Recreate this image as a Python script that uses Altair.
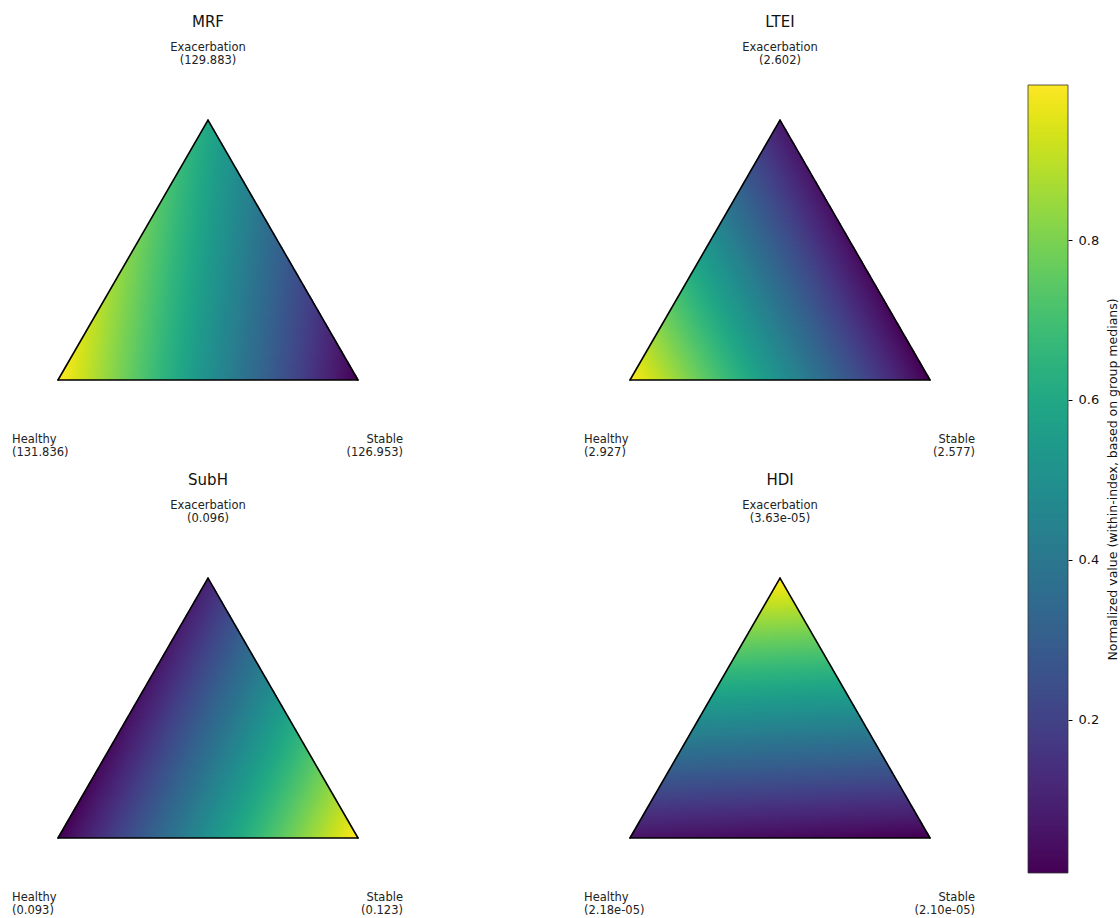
import math
import altair as alt
import pandas as pd

# ---------------- data ----------------
indices = ["MRF", "LTEI", "SubH", "HDI"]
healthy = [131.836, 2.927, 0.093, 2.18e-05]
exacerbation = [129.883, 2.602, 0.096, 3.63e-05]
stable = [126.953, 2.577, 0.123, 2.10e-05]
corners = ["Healthy", "Stable", "Exacerbation"]
colorbar_ticks = [0.2, 0.4, 0.6, 0.8]
colorbar_range = [0.008, 0.994]
cbar_title = "Normalized value (within-index, based on group medians)"

# panel placement in the 2 x 2 grid (layout, not data)
panel_col = [0, 1, 0, 1]
panel_row = [0, 0, 1, 1]


def fmt(v):
    return f"{v:.2e}" if abs(v) < 1e-3 else f"{v:.3f}"


wide = pd.DataFrame({
    "idx": indices, "H": healthy, "E": exacerbation, "S": stable,
    "pc": panel_col, "pr": panel_row,
})
long_rows = []
for i, name in enumerate(indices):
    for c, vals in zip(corners, [healthy, stable, exacerbation]):
        long_rows.append({"idx": name, "corner": c, "value": vals[i], "label": fmt(vals[i]),
                          "pc": panel_col[i], "pr": panel_row[i]})
long = pd.DataFrame(long_rows)

# ---------------- geometry / layout (pixel-like canvas units) ----------------
W, H = 1068, 918
HT = math.sqrt(3) / 2
R = 130           # rows of fill cells per triangle
C = 150           # columns of fill cells per triangle
SIDE = 300        # triangle side
X0, Y0 = 58, 380  # left base corner of the first panel
DX, DY = 572, 458 # panel pitch
FONT = "DejaVu Sans"
LBL = 11.5

xs = alt.Scale(domain=[0, W], nice=False, zero=False)
ys = alt.Scale(domain=[0, H], nice=False, zero=False, reverse=True)
cscale = alt.Scale(scheme="viridis", domain=colorbar_range, clamp=True)

OX = f"({X0} + {DX} * datum.pc)"
OY = f"({Y0} + {DY} * datum.pr)"

grid = (
    alt.Chart(wide)
    .transform_calculate(
        mn="min(datum.H, datum.E, datum.S)",
        mx="max(datum.H, datum.E, datum.S)",
    )
    .transform_calculate(
        nH="(datum.H - datum.mn) / (datum.mx - datum.mn)",
        nE="(datum.E - datum.mn) / (datum.mx - datum.mn)",
        nS="(datum.S - datum.mn) / (datum.mx - datum.mn)",
        r=f"sequence(0, {R})",
    )
    .transform_flatten(["r"])
    .transform_calculate(
        yc=f"(datum.r + 0.5) / {R} * {HT}",
        yb0=f"datum.r / {R} * {HT}",
        yb1=f"min((datum.r + 1) / {R} * {HT} + 0.002, {HT})",
    )
    .transform_calculate(le=f"0.5 * datum.yc / {HT}")
    .transform_calculate(
        re="1 - datum.le",
        k=f"sequence(floor(datum.le * {C}), ceil((1 - datum.le) * {C}))",
    )
    .transform_flatten(["k"])
    .transform_calculate(
        xb0=f"max(datum.k / {C}, datum.le)",
        xb1=f"min((datum.k + 1) / {C} + 0.002, datum.re)",
        xc=f"(max(datum.k / {C}, datum.le) + min((datum.k + 1) / {C}, datum.re)) / 2",
    )
    .transform_calculate(wE=f"datum.yc / {HT}")
    .transform_calculate(wS="datum.xc - 0.5 * datum.wE")
    .transform_calculate(wH="1 - datum.wE - datum.wS")
    .transform_calculate(
        v="datum.wH * datum.nH + datum.wE * datum.nE + datum.wS * datum.nS",
        px0=f"{OX} + {SIDE} * datum.xb0",
        px1=f"{OX} + {SIDE} * datum.xb1",
        py0=f"{OY} - {SIDE} * datum.yb0",
        py1=f"{OY} - {SIDE} * datum.yb1",
    )
    .mark_rect(strokeWidth=0)
    .encode(
        x=alt.X("px0:Q", scale=xs, axis=None),
        x2="px1:Q",
        y=alt.Y("py0:Q", scale=ys, axis=None),
        y2="py1:Q",
        color=alt.Color("v:Q", scale=cscale, legend=None),
    )
)

BX = "(datum.c == 'Healthy' ? 0 : (datum.c == 'Stable' ? 1 : 0.5))"
BY = f"(datum.c == 'Exacerbation' ? {HT} : 0)"

outline = (
    alt.Chart(long)
    .transform_calculate(
        nxt="datum.corner == 'Healthy' ? 'Stable' : (datum.corner == 'Stable' ? 'Exacerbation' : 'Healthy')"
    )
    .transform_calculate(
        ax=f"{OX} + {SIDE} * " + BX.replace("datum.c ", "datum.corner "),
        ay=f"{OY} - {SIDE} * " + BY.replace("datum.c ", "datum.corner "),
        bx=f"{OX} + {SIDE} * " + BX.replace("datum.c ", "datum.nxt "),
        by=f"{OY} - {SIDE} * " + BY.replace("datum.c ", "datum.nxt "),
    )
    .mark_rule(color="black", strokeWidth=1.6, strokeCap="round")
    .encode(
        x=alt.X("ax:Q", scale=xs, axis=None),
        y=alt.Y("ay:Q", scale=ys, axis=None),
        x2="bx:Q",
        y2="by:Q",
    )
)


def corner_text(corner, dx, dy, align):
    return (
        alt.Chart(long)
        .transform_filter(alt.datum.corner == corner)
        .transform_calculate(
            tx=f"{dx} + {DX} * datum.pc",
            ty=f"{dy} + {DY} * datum.pr",
            txt="datum.corner + '\\n(' + datum.label + ')'",
        )
        .mark_text(
            align=align, baseline="middle", lineBreak="\n", fontSize=LBL,
            lineHeight=13, font=FONT, color="#222222",
        )
        .encode(
            x=alt.X("tx:Q", scale=xs, axis=None),
            y=alt.Y("ty:Q", scale=ys, axis=None),
            text="txt:N",
        )
    )


t_exac = corner_text("Exacerbation", 208, 47.5, "center")
t_h = corner_text("Healthy", 12, 440, "left")
t_s = corner_text("Stable", 403, 440, "right")

titles = (
    alt.Chart(wide)
    .transform_calculate(tx=f"208 + {DX} * datum.pc", ty=f"22 + {DY} * datum.pr")
    .mark_text(align="center", baseline="middle", fontSize=15, font=FONT, color="#111111")
    .encode(
        x=alt.X("tx:Q", scale=xs, axis=None),
        y=alt.Y("ty:Q", scale=ys, axis=None),
        text="idx:N",
    )
)

# ---------------- colorbar ----------------
cmin, cmax = colorbar_range
CB_TOP, CB_BOT = 85, 873
scale_px = (CB_BOT - CB_TOP) / (cmax - cmin)
cb_dom = [cmin - (H - CB_BOT) / scale_px, cmax + CB_TOP / scale_px]
cbs = alt.Scale(domain=cb_dom, nice=False, zero=False)
step = (cmax - cmin) / 300

cb_fill = (
    alt.Chart(alt.sequence(cmin, cmax, step, as_="c"))
    .transform_calculate(c2=f"min(datum.c + {step * 1.6}, {cmax})")
    .mark_rect(strokeWidth=0)
    .encode(
        x=alt.value(W - 40),
        x2=alt.value(W),
        y=alt.Y(
            "c:Q",
            scale=cbs,
            axis=alt.Axis(
                orient="right", values=colorbar_ticks, format=".1f", domain=False, grid=False,
                tickColor="black", tickSize=4, tickWidth=1, labelFontSize=13,
                labelColor="#111111", labelFont=FONT, labelPadding=6,
                title=cbar_title, titleFont=FONT, titleFontSize=12.5,
                titleFontWeight="normal", titleColor="#111111", titleAngle=270,
                titleBaseline="top", titleY=479, titlePadding=8,
            ),
        ),
        y2="c2:Q",
        color=alt.Color("c:Q", scale=cscale, legend=None),
    )
)

cb_frame = (
    alt.Chart(pd.DataFrame({"lo": [cmin], "hi": [cmax]}))
    .mark_rect(filled=False, stroke="#333333", strokeWidth=0.8)
    .encode(
        x=alt.value(W - 40),
        x2=alt.value(W),
        y=alt.Y("lo:Q", scale=cbs, axis=None),
        y2="hi:Q",
    )
)

chart = (
    alt.layer(grid, outline, t_exac, t_h, t_s, titles, cb_fill, cb_frame)
    .resolve_scale(y="independent")
    .properties(width=W, height=H, padding=0, background="white")
    .configure(font=FONT)
    .configure_view(stroke="transparent", strokeWidth=0)
)

chart.save("out.html", embed_options={"renderer": "svg", "actions": False})
